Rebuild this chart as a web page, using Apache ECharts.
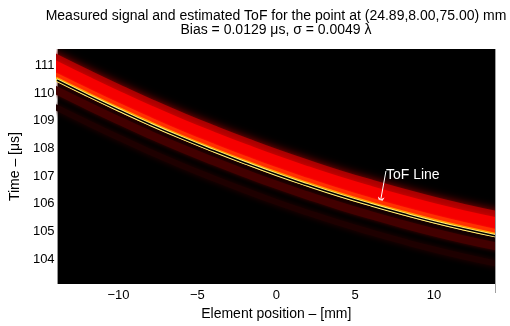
<!DOCTYPE html>
<html>
<head>
<meta charset="utf-8">
<script src="https://cdn.jsdelivr.net/npm/echarts@6/dist/echarts.min.js"></script>
<style>
  html, body { margin: 0; background: #fff; }
  #chart { width: 510px; height: 326px; }
</style>
</head>
<body>
<div id="chart"></div>
<script>
// values
const elementPos = [-13.86, -12, -10, -8, -6, -4, -2, 0, 2, 4, 6, 8, 10, 12, 13.86];
const tofLine = [110.45, 109.93, 109.39, 108.87, 108.38, 107.92, 107.48, 107.06, 106.67, 106.30, 105.96, 105.64, 105.34, 105.07, 104.84];
const xTicks = [-10, -5, 0, 5, 10];
const yTicks = [104, 105, 106, 107, 108, 109, 110, 111];
const xRange = [-13.86, 13.86];
const yRange = [103.09, 111.59];

const FONT = '"Liberation Sans", Arial, Helvetica, sans-serif';

// signal bands drawn as thick lines following the ToF curve (shift in us, width in px)
const bands = [
  { shift: 0.52, width: 21, color: '#a80000', blur: 10, shadow: '#a00000' },
  { shift: 0.42, width: 14, color: '#f60000', blur: 6, shadow: '#e00000' },
  { shift: -0.38, width: 8, color: '#420000', blur: 5, shadow: '#4a0000' },
  { shift: -1.0, width: 6, color: '#1e0000', blur: 6, shadow: '#2a0000' },
  { shift: 0.14, width: 6, color: '#ff3000', blur: 2, shadow: '#ff2000' },
  { shift: 0.03, width: 4.5, color: '#ff9a00', blur: 0, shadow: 'transparent' },
  { shift: 0, width: 3.4, color: '#fff07a', blur: 0, shadow: 'transparent' },
  { shift: 0, width: 1.5, color: '#000000', blur: 0, shadow: 'transparent' }
];

const chart = echarts.init(document.getElementById('chart'));

const series = bands.map((b, i) => ({
  type: 'line',
  smooth: true,
  symbol: 'none',
  silent: true,
  animation: false,
  data: elementPos.map((x, j) => [x, +(tofLine[j] + b.shift).toFixed(3)]),
  lineStyle: {
    width: b.width,
    color: b.color,
    shadowBlur: b.blur,
    shadowColor: b.shadow,
    cap: 'square'
  },
  z: 2 + i
}));

// ToF Line annotation
series.push({
  type: 'line',
  data: [],
  silent: true,
  animation: false,
  z: 20,
  markLine: {
    silent: true,
    animation: false,
    symbol: ['none', 'arrow'],
    symbolSize: [5, 9],
    lineStyle: { color: '#fff', width: 1, type: 'solid' },
    itemStyle: { color: '#fff' },
    label: { show: false },
    data: [[{ coord: [6.95, 107.18] }, { coord: [6.55, 105.92] }]]
  },
  markPoint: {
    silent: true,
    animation: false,
    symbol: 'circle',
    symbolSize: 0,
    label: {
      show: true,
      position: 'right',
      distance: 0,
      formatter: 'ToF Line',
      color: '#fff',
      fontFamily: FONT,
      fontSize: 14
    },
    data: [{ coord: [6.95, 107.03] }]
  }
});

const titleStyle = { fontFamily: FONT, fontSize: 14, fontWeight: 'normal', color: '#000' };
const nameStyle = { fontFamily: FONT, fontSize: 14, color: '#000' };
const tickStyle = { fontFamily: FONT, fontSize: 13, color: '#000' };

chart.setOption({
  animation: false,
  backgroundColor: '#fff',
  title: [
    { text: 'Measured signal and estimated ToF for the point at (24.89,8.00,75.00) mm',
      left: 271, top: 4, textAlign: 'center', z: 60, textStyle: titleStyle },
    { text: 'Bias = 0.0129 \u03bcs, \u03c3 = 0.0049 \u03bb',
      left: 271, top: 18, textAlign: 'center', z: 60, textStyle: titleStyle }
  ],
  grid: {
    left: 56, right: 15, top: 49, bottom: 33,
    show: true, backgroundColor: '#000', borderColor: '#000', borderWidth: 0
  },
  // white masks so the wide glowing lines stay inside the plot box
  graphic: {
    elements: [
      { type: 'rect', silent: true, z: 40, shape: { x: 0, y: 38, width: 56, height: 262 }, style: { fill: '#fff' } },
      { type: 'rect', silent: true, z: 40, shape: { x: 495, y: 38, width: 15, height: 262 }, style: { fill: '#fff' } },
      { type: 'rect', silent: true, z: 40, shape: { x: 56, y: 38, width: 439, height: 11 }, style: { fill: '#fff' } },
      { type: 'line', silent: true, z: 41, shape: { x1: 495.5, y1: 49, x2: 495.5, y2: 293 }, style: { stroke: '#a0a0a0', lineWidth: 1 } }
    ]
  },
  xAxis: {
    type: 'value',
    z: 50,
    min: xRange[0], max: xRange[1],
    name: 'Element position \u2013 [mm]',
    nameLocation: 'middle', nameGap: 20,
    nameTextStyle: nameStyle,
    axisLine: { show: false },
    axisTick: { show: false },
    splitLine: { show: false },
    axisLabel: Object.assign({
      customValues: xTicks,
      formatter: v => (v < 0 ? '\u2212' + Math.abs(v) : String(v)),
      margin: 5
    }, tickStyle)
  },
  yAxis: {
    type: 'value',
    z: 50,
    min: yRange[0], max: yRange[1],
    name: 'Time \u2013 [\u03bcs]',
    nameLocation: 'middle', nameGap: 35,
    nameTextStyle: nameStyle,
    axisLine: { show: false },
    axisTick: { show: false },
    splitLine: { show: false },
    axisLabel: Object.assign({
      customValues: yTicks,
      margin: 3
    }, tickStyle)
  },
  series: series
});
</script>
</body>
</html>
